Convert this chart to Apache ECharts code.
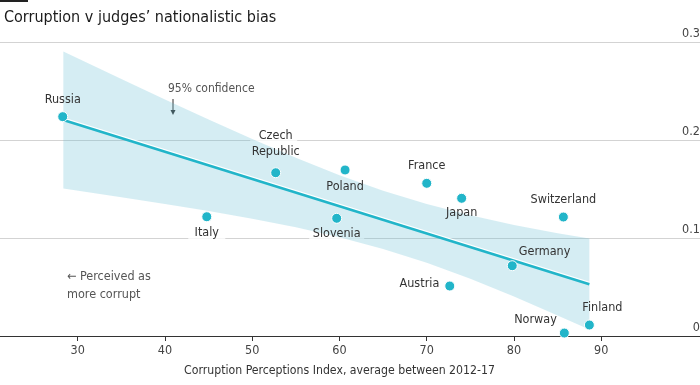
<!DOCTYPE html>
<html>
<head>
<meta charset="utf-8">
<script src="https://cdn.jsdelivr.net/npm/echarts@6/dist/echarts.min.js"></script>
<style>
  html, body { margin: 0; padding: 0; background: #fff; }
  #chart { width: 700px; height: 385px; }
</style>
</head>
<body>
<div id="chart"></div>
<script>
// ---- data ----
const countries = ['Russia', 'Czech Republic', 'Poland', 'Italy', 'Slovenia', 'France', 'Japan', 'Switzerland', 'Germany', 'Austria', 'Norway', 'Finland'];
const cpi = [28.28, 52.69, 60.64, 44.79, 59.68, 70.0, 74.0, 85.66, 79.8, 72.64, 85.77, 88.64];
const bias = [0.2238, 0.1666, 0.1694, 0.1217, 0.1201, 0.1558, 0.1405, 0.1214, 0.0717, 0.0510, 0.0030, 0.0112];

const fitX = [28.35, 88.64];
const fitY = [0.2204, 0.0527];

const bandX = [28.35, 35, 40, 45, 50, 55, 60, 65, 70, 75, 80, 85, 88.64];
const bandUpper = [0.2904, 0.2623, 0.2414, 0.2209, 0.2009, 0.1819, 0.1641, 0.1482, 0.1346, 0.1231, 0.1133, 0.1048, 0.0995];
const bandLower = [0.1504, 0.1417, 0.1348, 0.1275, 0.1197, 0.1109, 0.1008, 0.0888, 0.0747, 0.0583, 0.0403, 0.0210, 0.0066];

const xTicks = [30, 40, 50, 60, 70, 80, 90];
const yTicks = [0, 0.1, 0.2, 0.3];

const titleText = 'Corruption v judges\u2019 nationalistic bias';
const xAxisTitle = 'Corruption Perceptions Index, average between 2012-17';
const confidenceNote = '95% confidence';
const corruptNote = '\u2190 Perceived as\nmore corrupt';

// ---- styles ----
const FONT = "'Liberation Sans Narrow', 'DejaVu Sans Condensed', Roboto, sans-serif";
const TEAL = '#22b5c9';
const BAND = 'rgba(100,190,210,0.27)';

const labelPlacement = {
  'Russia': { position: 'top', distance: 3 },
  'Czech Republic': { position: 'top', distance: 7, formatter: 'Czech\nRepublic' },
  'Poland': { position: 'bottom', distance: 3 },
  'Italy': { position: 'bottom', distance: 3 },
  'Slovenia': { position: 'bottom', distance: 2 },
  'France': { position: 'top', distance: 4 },
  'Japan': { position: 'bottom', distance: 1 },
  'Switzerland': { position: 'top', distance: 4 },
  'Germany': { position: 'right', distance: 1, offset: [0, -14] },
  'Austria': { position: 'left', distance: 5, offset: [0, -2] },
  'Norway': { position: 'left', distance: 2, offset: [0, -13] },
  'Finland': { position: 'top', distance: 4, offset: [13, 0] }
};
// white gaps cut into gridlines behind some labels
const knockouts = {
  'Czech Republic': { width: 47, offset: [-2, -32] },
  'Italy': { width: 37, offset: [0, 22] },
  'Slovenia': { width: 55, offset: [0, 20] }
};

const pointData = countries.map((c, i) => {
  const p = labelPlacement[c];
  return {
    name: c,
    value: [cpi[i], bias[i]],
    label: Object.assign({}, p)
  };
});

const knockData = countries.map((c, i) => ({ name: c, value: [cpi[i], bias[i]], k: knockouts[c] }))
  .filter(d => d.k)
  .map(d => ({
    name: d.name, value: d.value,
    label: { show: true, position: 'inside', offset: d.k.offset, formatter: ' ', width: d.k.width, height: 6,
             backgroundColor: '#fff', padding: 0, color: 'rgba(0,0,0,0)' }
  }));

const bandData = bandX.map((x, i) => [x, bandLower[i], bandUpper[i]]);

const chart = echarts.init(document.getElementById('chart'), null, { renderer: 'canvas' });

chart.setOption({
  animation: false,
  backgroundColor: '#fff',
  textStyle: { fontFamily: FONT },
  title: {
    text: titleText,
    left: -1, top: 5,
    textStyle: { fontFamily: FONT, fontSize: 16, fontWeight: 'normal', color: '#1a1a1a' }
  },
  grid: { left: 0, right: 0, top: 42, bottom: 49, containLabel: false, outerBoundsMode: 'none' },
  xAxis: {
    type: 'value',
    min: 21.09, max: 101.32,
    name: xAxisTitle,
    nameLocation: 'middle',
    nameGap: 29,
    nameTextStyle: { fontFamily: FONT, fontSize: 12.2, color: '#333', padding: [0, 21, 0, 0] },
    axisLine: { show: true, lineStyle: { color: '#333', width: 1 } },
    axisTick: { show: true, customValues: xTicks, length: 5, lineStyle: { color: '#333' } },
    axisLabel: { customValues: xTicks, margin: 8, fontFamily: FONT, fontSize: 12.5, color: '#444' },
    splitLine: { show: false }
  },
  yAxis: {
    type: 'value',
    position: 'right',
    min: yTicks[0], max: yTicks[yTicks.length - 1], interval: 0.1,
    axisLine: { show: false },
    axisTick: { show: false },
    axisLabel: {
      inside: true, margin: 0, verticalAlign: 'bottom', padding: [0, 0, 2, 0],
      fontFamily: FONT, fontSize: 12.5, color: '#444',
      formatter: v => String(Math.round(v * 10) / 10)
    },
    splitLine: { show: true, lineStyle: { color: '#d3d3d3', width: 1 } }
  },
  series: [
    {
      type: 'scatter', z: 1, silent: true, symbolSize: 0,
      data: knockData
    },
    {
      type: 'custom', z: 2, silent: true,
      data: bandData,
      encode: { x: 0, y: [1, 2] },
      renderItem: function (params, api) {
        if (params.dataIndex !== 0) return;
        const pts = [];
        for (let i = 0; i < bandX.length; i++) pts.push(api.coord([bandX[i], bandUpper[i]]));
        for (let i = bandX.length - 1; i >= 0; i--) pts.push(api.coord([bandX[i], bandLower[i]]));
        return { type: 'polygon', shape: { points: pts }, style: { fill: BAND } };
      }
    },
    {
      type: 'line', z: 3, silent: true, symbol: 'none',
      data: fitX.map((x, i) => [x, fitY[i]]),
      lineStyle: { color: TEAL, width: 2.6, shadowColor: '#fff', shadowBlur: 0, shadowOffsetY: -1.3 }
    },
    {
      type: 'scatter', z: 4, symbolSize: 10,
      itemStyle: { color: TEAL, borderColor: '#fff', borderWidth: 1, opacity: 1 },
      label: { show: true, formatter: '{b}', fontFamily: FONT, fontSize: 12.5, color: '#333', lineHeight: 16 },
      data: pointData
    }
  ],
  graphic: [
    { type: 'rect', left: 0, top: 0, shape: { width: 28, height: 2 }, style: { fill: '#222' } },
    { type: 'text', left: 168, top: 83, style: { text: confidenceNote, font: '12px ' + FONT, fill: '#555' } },
    { type: 'line', shape: { x1: 173, y1: 99, x2: 173, y2: 111 }, style: { stroke: '#333', lineWidth: 1 } },
    { type: 'polygon', shape: { points: [[170.5, 110], [175.5, 110], [173, 115]] }, style: { fill: '#333' } },
    { type: 'text', left: 67, top: 268, style: { text: corruptNote, font: '12.5px ' + FONT, fill: '#555', lineHeight: 18 } }
  ]
});
</script>
</body>
</html>
